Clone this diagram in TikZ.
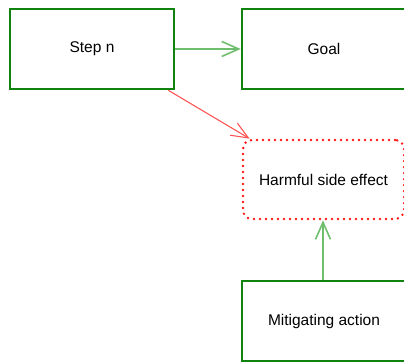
\documentclass[tikz,border=0pt]{standalone}
\usepackage{fontspec}
\setmainfont{Liberation Sans}
\usetikzlibrary{arrows.meta}
\definecolor{boxgreen}{RGB}{16,130,16}
\definecolor{arrgreen}{RGB}{110,190,110}
\definecolor{harmred}{RGB}{255,20,20}
\definecolor{arrred}{RGB}{255,85,85}
\tikzset{
  stepbox/.style={draw=boxgreen, line width=2.6pt, minimum width=164pt, minimum height=80pt, inner sep=0pt, font=\fontsize{15.5}{18}\selectfont},
  harmbox/.style={draw=harmred, line width=2.7pt, dash pattern=on 0pt off 6pt, line cap=round, rounded corners=9pt, minimum width=161pt, minimum height=79pt, inner sep=0pt, font=\fontsize{15.5}{18}\selectfont},
  greenarr/.style={draw=arrgreen, line width=1.6pt, -{Straight Barb[length=17pt, width=15pt]}},
  redarr/.style={draw=arrred, line width=1.1pt, -{Straight Barb[length=17pt, width=14pt]}}
}
\begin{document}
\begin{tikzpicture}[x=1pt, y=-1pt]
\useasboundingbox (0,0) rectangle (404,363);
\node[stepbox] (s) at (92,49) {Step n};
\node[stepbox] (g) at (324,49) {Goal};
\node[harmbox] (h) at (323.5,179.5) {Harmful side effect};
\node[stepbox] (m) at (324,321) {Mitigating action};
\draw[greenarr] (s.east) -- (g.west);
\draw[redarr] ([xshift=-7pt]s.south east) -- ([xshift=8pt]h.north west);
\draw[greenarr] (m.north -| 323,0) -- (h.south -| 323,0);
\end{tikzpicture}
\end{document}
